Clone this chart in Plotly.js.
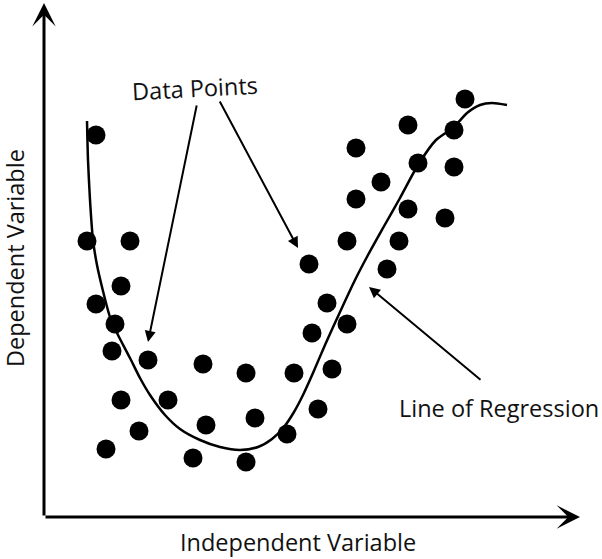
<!DOCTYPE html>
<html>
<head>
<meta charset="utf-8">
<script src="https://cdn.plot.ly/plotly-3.0.1.min.js"></script>
<style>html,body{margin:0;padding:0;background:#fff;}#chart{width:602px;height:559px;}</style>
</head>
<body>
<div id="chart"></div>
<script>
// Data points (independent, dependent)
const pointsX = [52,43,86,77,52,71,68,104,159,202,250,77,124,162,211,95,243,62,149,202,
                 421,364,410,312,374,410,337,312,364,401,303,355,265,343,283,268,303,288,274];
const pointsY = [382,276,276,231,213,193,166,157,153,144,144,117,117,92,99,86,83,68,59,55,
                 418,392,387,369,354,350,335,318,308,299,276,276,253,248,214,184,193,148,108];
// Regression curve
const curveX = [43,44,46,49,53,58,66,74,86,96,106,121,136,156,176,196,214,228,240,250,259,269,281,296,311,324,339,356,374,392,410,423,436,448,463];
const curveY = [396,357,317,277,252,230,200,182,159,139,122,102,88,77,70,67,70,78,90,105,122,144,172,205,237,262,289,319,352,377,390,404,412,414,412];
// Labels
const labelPoints = "Data Points";
const labelLine = "Line of Regression";
const labelX = "Independent Variable";
const labelY = "Dependent Variable";

const font = {family: "'Open Sans', sans-serif", size: 23.5, color: "#111"};

const traces = [
  {x: curveX, y: curveY, mode: "lines", line: {color: "#000", width: 2.5, shape: "spline", smoothing: 0.7}, hoverinfo: "skip"},
  {x: pointsX, y: pointsY, mode: "markers", marker: {color: "#000", size: 19}, hoverinfo: "skip"}
];

function arrow(tailX, tailY, tipX, tipY, w, size, head) {
  return {x: tipX, y: tipY, ax: tailX, ay: tailY, xref: "x", yref: "y", axref: "x", ayref: "y",
          text: "", showarrow: true, arrowhead: head, arrowsize: size, arrowwidth: w,
          arrowcolor: "#000", standoff: 0, startstandoff: 0};
}

const layout = {
  width: 602, height: 559,
  margin: {l: 0, r: 0, t: 0, b: 0},
  paper_bgcolor: "#fff", plot_bgcolor: "#fff",
  showlegend: false,
  xaxis: {range: [-44, 558], visible: false, fixedrange: true},
  yaxis: {range: [-42, 517], visible: false, fixedrange: true},
  annotations: [
    arrow(0, 0, 0, 514, 3, 1.3, 3),
    arrow(0, 0, 536, 0, 3, 1.3, 3),
    arrow(153, 413, 104, 175, 2, 1.1, 2),
    arrow(175, 417, 254, 269, 2, 1.1, 2),
    arrow(438, 136, 325, 230, 2, 1.1, 2),
    {x: 151, y: 429, xref: "x", yref: "y", text: labelPoints, showarrow: false, font: font, textangle: -3},
    {x: 455, y: 109, xref: "x", yref: "y", text: labelLine, showarrow: false, font: font},
    {x: 254, y: -25, xref: "x", yref: "y", text: labelX, showarrow: false, font: font, borderpad: 0},
    {x: -29, y: 259, xref: "x", yref: "y", text: labelY, showarrow: false, font: font, textangle: -90}
  ]
};

Plotly.newPlot("chart", traces, layout, {staticPlot: true, displayModeBar: false});
</script>
</body>
</html>
